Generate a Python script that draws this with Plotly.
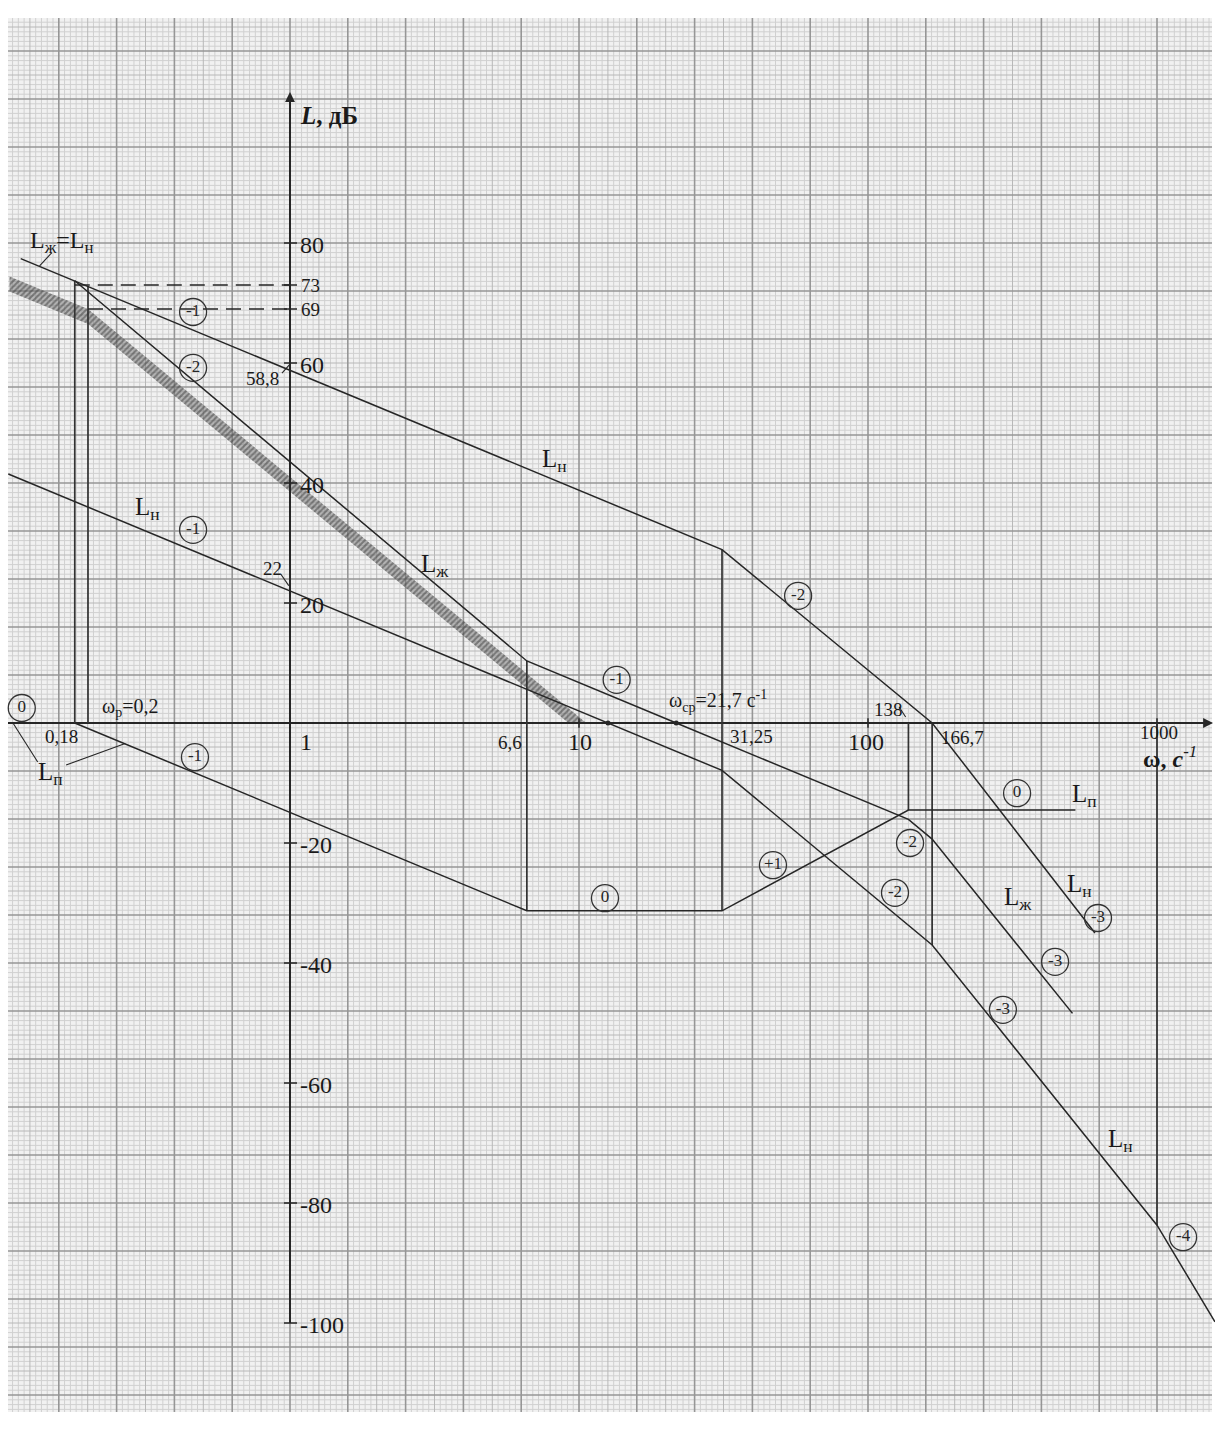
import numpy as np
import plotly.graph_objects as go

# ---------------- asymptotic log-magnitude curves (ω, s^-1 ; L, dB) ----------------
# uncorrected system, upper curve (coincides with the desired one at low ω)
ln_top_w = [0.117, 31.25, 166.7, 610]
ln_top_L = [77.4, 28.9, 0.0, -35.0]

# uncorrected system, lower curve
ln_low_w = [0.106, 31.25, 166.7, 1000, 1587]
ln_low_L = [41.5, -7.9, -37.0, -83.7, -99.8]

# desired characteristic
lzh_w = [0.18, 6.6, 21.7, 138, 166.7, 510]
lzh_L = [73.7, 10.34, 0.0, -16.07, -19.35, -48.4]

# series correction device
lp_w = [0.18, 6.6, 31.25, 138, 522]
lp_L = [0.0, -31.3, -31.3, -14.5, -14.5]

# boundary of the forbidden zone
zone_w = [0.107, 0.2, 10.6]
zone_L = [74.4, 69.0, 0.0]

# vertical construction lines: frequency, upper and lower level
vert_w = [0.18, 0.2, 6.6, 31.25, 138, 166.7, 1000]
vert_top = [73.7, 72.8, 10.34, 28.9, 0.0, 0.0, 0.0]
vert_bot = [0.0, 0.0, -31.3, -31.3, -14.5, -37.0, -83.7]

# dashed reference levels
dash_L = [73, 69]
dash_w0 = [0.18, 0.2]

# axis tick values and labels
y_ticks = [80, 60, 40, 20, -20, -40, -60, -80, -100]
y_labels = ["80", "60", "40", "20", "-20", "-40", "-60", "-80", "-100"]
x_ticks = [0.18, 1, 6.6, 10, 31.25, 100, 138, 166.7, 1000]
x_labels = ["0,18", "1", "6,6", "10", "31,25", "100", "138", "166,7", "1000"]

# slope markers (in units of 20 dB/dec)
slope_text = ["0", "-1", "-2", "-1", "-1", "-1", "-2", "0", "+1", "-2", "-2", "0", "-3", "-3", "-3", "-4"]
slope_w = [0.118, 0.462, 0.462, 0.462, 0.469, 13.5, 57.3, 12.3, 46.9, 139.8, 124, 328, 625, 444, 293, 1231]
slope_L = [2.5, 68.5, 59.2, 32.2, -5.7, 7.2, 21.2, -29.2, -23.7, -20.0, -28.3, -11.7, -32.5, -39.8, -47.8, -85.7]

# ---------------- page geometry ----------------
W, H = 1215, 1430
X_ONE, DEC = 290.0, 289.0          # pixel of ω = 1, pixels per decade
Y_ZERO, PX_DB = 723.0, 6.0         # pixel of 0 dB, pixels per dB


def w_px(px):
    return 10 ** ((px - X_ONE) / DEC)


def L_px(py):
    return (Y_ZERO - py) / PX_DB


x_range = [(0 - X_ONE) / DEC, (W - X_ONE) / DEC]
y_range = [L_px(H), L_px(0)]

SHEET_L, SHEET_R, SHEET_T, SHEET_B = 8, 1212, 18, 1412
COL, ROW = 57.8, 48.0              # large cells of the millimetre paper

INK = "#262626"
FONT = "Liberation Serif"

fig = go.Figure()

# ---------------- millimetre paper ----------------
grid = {0: ([], []), 1: ([], []), 2: ([], [])}
k0 = int(np.ceil((SHEET_L - X_ONE) / (COL / 10)))
k1 = int(np.floor((SHEET_R - X_ONE) / (COL / 10)))
for k in range(k0, k1 + 1):
    px = X_ONE + k * COL / 10
    lvl = 2 if k % 10 == 0 else (1 if k % 5 == 0 else 0)
    w = w_px(px)
    grid[lvl][0].extend([w, w, None])
    grid[lvl][1].extend([L_px(SHEET_T), L_px(SHEET_B), None])
k0 = int(np.ceil((SHEET_T - Y_ZERO) / (ROW / 10)))
k1 = int(np.floor((SHEET_B - Y_ZERO) / (ROW / 10)))
for k in range(k0, k1 + 1):
    py = Y_ZERO + k * ROW / 10
    lvl = 2 if k % 10 == 0 else (1 if k % 5 == 0 else 0)
    grid[lvl][0].extend([w_px(SHEET_L), w_px(SHEET_R), None])
    grid[lvl][1].extend([L_px(py), L_px(py), None])

grid_style = {0: ("#d0d0d0", 1), 1: ("#b8b8b8", 1), 2: ("#969696", 1.6)}
for lvl in (0, 1, 2):
    col, wd = grid_style[lvl]
    fig.add_trace(go.Scatter(x=grid[lvl][0], y=grid[lvl][1], mode="lines",
                             line=dict(color=col, width=wd), hoverinfo="skip"))

# ---------------- forbidden zone (hatched band) ----------------
depth = 2.5
low = [l - depth for l in zone_L]
w_end = zone_w[1] * 10 ** ((zone_L[1] - depth) / 40)
band_w = list(zone_w) + [w_end, zone_w[1], zone_w[0]]
band_L = list(zone_L) + [0.0, low[1], low[0]]
fig.add_trace(go.Scatter(x=band_w, y=band_L, mode="lines", fill="toself",
                         line=dict(width=0, color="rgba(0,0,0,0)"),
                         fillcolor="rgba(110,110,110,0.45)",
                         fillpattern=dict(shape="/", size=4, solidity=0.5,
                                          fgcolor="#3a3a3a"),
                         hoverinfo="skip"))

# ---------------- axes ----------------
fig.add_trace(go.Scatter(x=[w_px(SHEET_L), w_px(1205)], y=[0, 0], mode="lines",
                         line=dict(color=INK, width=2), hoverinfo="skip"))
fig.add_trace(go.Scatter(x=[1, 1], y=[-100, 104], mode="lines",
                         line=dict(color=INK, width=2), hoverinfo="skip"))
tx, ty = [], []
for v in y_ticks + dash_L:
    tx += [w_px(X_ONE - 6), w_px(X_ONE + 7), None]
    ty += [v, v, None]
for v in [1, 10, 100, 1000]:
    tx += [v, v, None]
    ty += [0.8, -0.8, None]
fig.add_trace(go.Scatter(x=tx, y=ty, mode="lines", line=dict(color=INK, width=1.5),
                         hoverinfo="skip"))

# ---------------- construction lines ----------------
vx, vy = [], []
for w, a, b in zip(vert_w, vert_top, vert_bot):
    vx += [w, w, None]
    vy += [a, b, None]
fig.add_trace(go.Scatter(x=vx, y=vy, mode="lines", line=dict(color="#333333", width=1.7),
                         hoverinfo="skip"))
for lv, w0 in zip(dash_L, dash_w0):
    fig.add_trace(go.Scatter(x=[w0, 1], y=[lv, lv], mode="lines",
                             line=dict(color=INK, width=1.5, dash="15px,8px"),
                             hoverinfo="skip"))

# ---------------- characteristics ----------------
for xs, ys in [(ln_top_w, ln_top_L), (ln_low_w, ln_low_L), (lzh_w, lzh_L), (lp_w, lp_L)]:
    fig.add_trace(go.Scatter(x=xs, y=ys, mode="lines", line=dict(color=INK, width=1.5),
                             hoverinfo="skip"))

# leader lines for the labels
leaders = [
    ([0.938, 1.0], [58.3, 59.8]),
    ([0.93, 0.99], [24.8, 22.9]),
    ([128, 135], [2.7, 1.0]),
    ([0.110, 0.134], [0.0, -6.5]),
    ([0.168, 0.269], [-7.0, -3.4]),
    ([0.136, 0.150], [76.2, 78.4]),
]
for xs, ys in leaders:
    fig.add_trace(go.Scatter(x=xs, y=ys, mode="lines", line=dict(color=INK, width=1.1),
                             hoverinfo="skip"))

# crossover points
fig.add_trace(go.Scatter(x=[21.7, 12.6], y=[0, 0], mode="markers",
                         marker=dict(color=INK, size=5), hoverinfo="skip"))

# slope markers in circles
fig.add_trace(go.Scatter(x=slope_w, y=slope_L, mode="markers+text", text=slope_text,
                         textposition="middle center",
                         textfont=dict(family=FONT, size=17, color=INK),
                         marker=dict(symbol="circle-open", size=27, color="#333333",
                                     line=dict(color="#333333", width=1.3)),
                         hoverinfo="skip"))

# ---------------- text ----------------
ann = []


def label(w, L, text, size=20, xanchor="center", yanchor="middle"):
    ann.append(dict(x=np.log10(w), y=L, text=text, showarrow=False, xref="x", yref="y",
                    xanchor=xanchor, yanchor=yanchor,
                    font=dict(family=FONT, size=size, color="#1a1a1a")))


for v, t in zip(y_ticks, y_labels):
    label(w_px(X_ONE + 8), v - 0.3, t, size=24, xanchor="left")
for v in dash_L:
    label(w_px(X_ONE + 9), v, str(v), size=19, xanchor="left")

x_lab_pos = [(0.162, -2.3), (1.14, -3.2), (5.77, -3.2), (10.1, -3.2), (39.6, -2.2),
             (98.4, -3.2), (117.6, 2.3), (212, -2.4), (1018, -1.6)]
for (w, L), t in zip(x_lab_pos, x_labels):
    big = t in ("1", "10", "100")
    label(w, L, t, size=24 if big else 19)

label(0.806, 57.5, "58,8", size=19)
label(0.873, 25.8, "22", size=19)
label(0.28, 2.6, "ω<sub>р</sub>=0,2", size=20)
label(30.3, 3.6, "ω<sub>ср</sub>=21,7 с<sup>-1</sup>", size=20)
label(1110, -5.6, "<b>ω, <i>с</i></b><sup><i>-1</i></sup>", size=24)
label(w_px(X_ONE + 8), 101.3, "<b><i>L</i>, дБ</b>", size=25, xanchor="left")

label(0.162, 80.2, "L<sub>ж</sub>=L<sub>н</sub>", size=24)
label(8.25, 43.8, "L<sub>н</sub>", size=25)
label(3.17, 26.3, "L<sub>ж</sub>", size=25)
label(0.322, 35.8, "L<sub>н</sub>", size=25)
label(0.148, -8.4, "L<sub>п</sub>", size=25)
label(563, -12.0, "L<sub>п</sub>", size=25)
label(541, -27.0, "L<sub>н</sub>", size=25)
label(330, -29.2, "L<sub>ж</sub>", size=25)
label(745, -69.5, "L<sub>н</sub>", size=25)

# axis arrows
ann.append(dict(x=0, y=L_px(92), xref="x", yref="y", ax=0, ay=22, text="",
                showarrow=True, arrowhead=2, arrowsize=1.1, arrowwidth=1.8, arrowcolor=INK))
ann.append(dict(x=np.log10(w_px(1213)), y=0, xref="x", yref="y", ax=-22, ay=0, text="",
                showarrow=True, arrowhead=2, arrowsize=1.1, arrowwidth=1.8, arrowcolor=INK))

fig.update_layout(
    width=W, height=H,
    margin=dict(l=0, r=0, t=0, b=0),
    paper_bgcolor="white", plot_bgcolor="white",
    showlegend=False,
    annotations=ann,
    shapes=[dict(type="rect", xref="paper", yref="paper",
                 x0=SHEET_L / W, x1=SHEET_R / W, y0=1 - SHEET_B / H, y1=1 - SHEET_T / H,
                 fillcolor="#f1f1f1", line=dict(width=0), layer="below")],
    xaxis=dict(type="log", range=x_range, visible=False, fixedrange=True),
    yaxis=dict(range=y_range, visible=False, fixedrange=True),
)

fig.write_html("out.html")
